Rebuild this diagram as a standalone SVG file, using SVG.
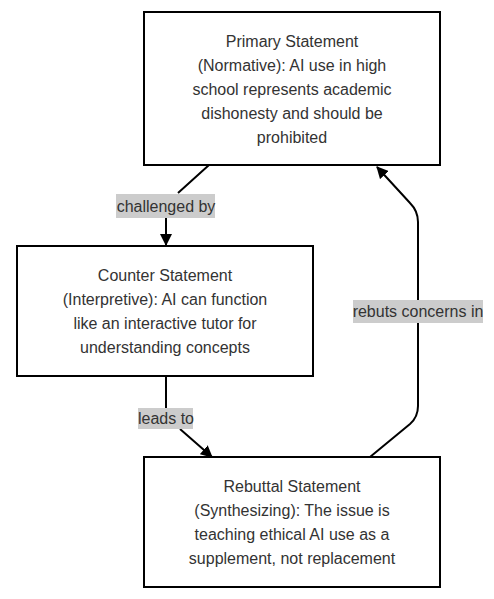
<svg xmlns="http://www.w3.org/2000/svg" width="494" height="599" viewBox="0 0 494 599">
<style>
.node rect{fill:#ffffff;stroke:#000000;stroke-width:2}
.node text{font-family:"Liberation Sans",Arial,sans-serif;font-size:16px;fill:#333333;text-anchor:middle;dominant-baseline:central}
.edge{fill:none;stroke:#000000;stroke-width:2}
.lbl rect{fill:#cccccc}
.lbl text{font-family:"Liberation Sans",Arial,sans-serif;font-size:16px;fill:#333333;text-anchor:middle;dominant-baseline:central}
</style>
<defs>
<marker id="arr" viewBox="0 0 12 12" refX="11" refY="6" markerWidth="12" markerHeight="12" markerUnits="userSpaceOnUse" orient="auto">
<path d="M0,0 L12,6 L0,12 Z" fill="#000000"/>
</marker>
</defs>
<rect width="494" height="599" fill="#ffffff"/>
<g id="connectors">
<path class="edge" d="M209,165 L178,193 M166,218 L166,245" marker-end="url(#arr)"/>
<path class="edge" d="M166,376 L166,408 M180,429 L212,457" marker-end="url(#arr)"/>
<path class="edge" d="M370,457 L410,424 Q418,417 418,406 L418,222 Q418,211 410,203 L377,167" marker-end="url(#arr)"/>
<g class="lbl" id="label-challenged">
<rect x="116" y="194" width="99" height="24"/>
<text x="166" y="206">challenged by</text>
</g>
<g class="lbl" id="label-leads">
<rect x="138" y="408" width="55" height="21"/>
<text x="166" y="418">leads to</text>
</g>
<g class="lbl" id="label-rebuts">
<rect x="353" y="300" width="130" height="23"/>
<text x="418" y="311">rebuts concerns in</text>
</g>
</g>
<g class="node" id="primary">
<rect x="144" y="12" width="296" height="153"/>
<text x="292" y="41">Primary Statement</text>
<text x="292" y="65">(Normative): AI use in high</text>
<text x="292" y="89">school represents academic</text>
<text x="292" y="113">dishonesty and should be</text>
<text x="292" y="137">prohibited</text>
</g>
<g class="node" id="counter">
<rect x="17" y="246" width="296" height="130"/>
<text x="165" y="275">Counter Statement</text>
<text x="165" y="299">(Interpretive): AI can function</text>
<text x="165" y="323">like an interactive tutor for</text>
<text x="165" y="347">understanding concepts</text>
</g>
<g class="node" id="rebuttal">
<rect x="144" y="457" width="296" height="130"/>
<text x="292" y="486">Rebuttal Statement</text>
<text x="292" y="510">(Synthesizing): The issue is</text>
<text x="292" y="534">teaching ethical AI use as a</text>
<text x="292" y="558">supplement, not replacement</text>
</g>
</svg>
